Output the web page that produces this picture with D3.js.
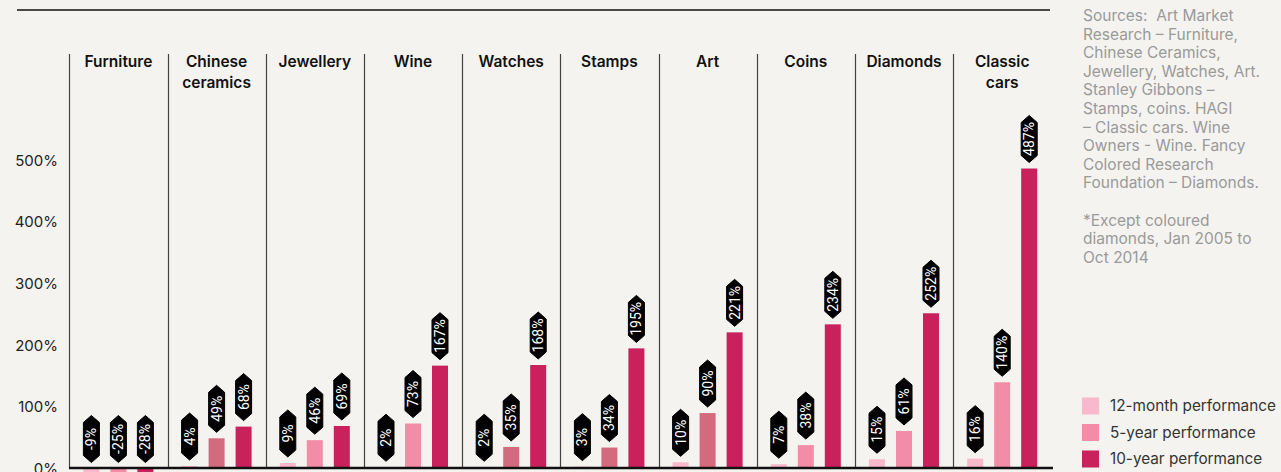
<!DOCTYPE html>
<html>
<head>
<meta charset="utf-8">
<script src="https://cdn.jsdelivr.net/npm/d3@7"></script>
<style>
  html, body { margin: 0; padding: 0; background: #f4f3ef; }
  svg { display: block; font-family: Inter, Roboto, "Liberation Sans", sans-serif; }
</style>
</head>
<body>
<svg id="chart" width="1281" height="472"></svg>
<script>
// categories, in column order
const categories = ['Furniture', 'Chinese ceramics', 'Jewellery', 'Wine', 'Watches',
  'Stamps', 'Art', 'Coins', 'Diamonds', 'Classic cars']
// header lines for each column
const headerLines = [['Furniture'], ['Chinese', 'ceramics'], ['Jewellery'], ['Wine'], ['Watches'],
  ['Stamps'], ['Art'], ['Coins'], ['Diamonds'], ['Classic', 'cars']]

const series = ['12-month performance', '5-year performance', '10-year performance']
const twelveMonth = [-9, 4, 9, 2, 2, 3, 10, 7, 15, 16]
const fiveYear = [-25, 49, 46, 73, 35, 34, 90, 38, 61, 140]
const tenYear = [-28, 68, 69, 167, 168, 195, 221, 234, 252, 487]

const yTicks = [0, 100, 200, 300, 400, 500]

const sourceLines = [
  'Sources:  Art Market',
  'Research \u2013 Furniture,',
  'Chinese Ceramics,',
  'Jewellery, Watches, Art.',
  'Stanley Gibbons \u2013',
  'Stamps, coins. HAGI',
  '\u2013 Classic cars. Wine',
  'Owners - Wine. Fancy',
  'Colored Research',
  'Foundation \u2013 Diamonds.',
  '',
  '*Except coloured',
  'diamonds, Jan 2005 to',
  'Oct 2014'
]

// colours
const colors = ['#f9b8cb', '#f28ca7', '#c8215b']
const darkFive = '#d46a7e'   // a few 5-year bars are drawn in a duskier pink
const darkFiveCats = ['Chinese ceramics', 'Watches', 'Stamps', 'Art']

const values = [twelveMonth, fiveYear, tenYear]
const data = categories.map((c, i) => ({
  name: c,
  lines: headerLines[i],
  bars: series.map((s, j) => ({ cat: c, key: s, idx: j, value: values[j][i] }))
}))

const svg = d3.select('#chart')

const x0 = d3.scaleBand()
  .domain(categories)
  .range([69.3, 1051.3])

const x1 = d3.scaleBand()
  .domain(series)
  .range([x0.bandwidth() / 2 - 35, x0.bandwidth() / 2 + 35])
  .paddingInner(0.4074)

const y = d3.scaleLinear()
  .domain([0, 500])
  .range([468.5, 160.5])

// top rule
svg.append('line')
  .attr('x1', 17).attr('x2', 1050)
  .attr('y1', 10).attr('y2', 10)
  .attr('stroke', '#111').attr('stroke-width', 1.5)

// y axis labels only
const yAxis = d3.axisLeft(y)
  .tickValues(yTicks)
  .tickFormat(d => d + '%')
  .tickSize(0)
  .tickPadding(0)

svg.append('g')
  .attr('transform', 'translate(58,0)')
  .call(yAxis)
  .call(g => g.select('.domain').remove())
  .call(g => g.selectAll('text')
    .attr('font-family', 'Inter, Roboto, sans-serif')
    .attr('font-size', 15)
    .attr('fill', '#222'))

// column dividers
svg.append('g')
  .selectAll('line')
  .data(categories)
  .join('line')
  .attr('x1', d => Math.round(x0(d)) + 0.5)
  .attr('x2', d => Math.round(x0(d)) + 0.5)
  .attr('y1', 54)
  .attr('y2', y(0))
  .attr('stroke', '#444')
  .attr('stroke-width', 1.2)

// column headers
const headers = svg.append('g')
  .selectAll('text')
  .data(data)
  .join('text')
  .attr('x', d => x0(d.name) + x0.bandwidth() / 2)
  .attr('y', 67)
  .attr('text-anchor', 'middle')
  .attr('font-size', 15.5)
  .attr('font-weight', 600)
  .attr('fill', '#111')

headers.selectAll('tspan')
  .data(d => d.lines)
  .join('tspan')
  .attr('x', function() { return d3.select(this.parentNode).attr('x') })
  .attr('dy', (d, i) => i === 0 ? 0 : 21)
  .text(d => d)

// bar groups
const groups = svg.append('g')
  .selectAll('g')
  .data(data)
  .join('g')
  .attr('transform', d => `translate(${x0(d.name)},0)`)

const barColor = d => (d.idx === 1 && darkFiveCats.includes(d.cat)) ? darkFive : colors[d.idx]

groups.selectAll('rect')
  .data(d => d.bars)
  .join('rect')
  .attr('x', d => x1(d.key))
  .attr('width', x1.bandwidth())
  .attr('y', d => y(Math.max(0, d.value)))
  .attr('height', d => Math.abs(y(d.value) - y(0)))
  .attr('fill', barColor)

// baseline
svg.append('line')
  .attr('x1', 69).attr('x2', 1053)
  .attr('y1', y(0) - 0.5).attr('y2', y(0) - 0.5)
  .attr('stroke', '#111').attr('stroke-width', 2.5)

// value tags: black hexagon with rotated text
const tagW = 16, tagH = 47, tagTip = 7, tagGap = 6
const tagPath = `M0,${-tagH / 2} L${tagW / 2},${-tagH / 2 + tagTip} L${tagW / 2},${tagH / 2 - tagTip}` +
  ` L0,${tagH / 2} L${-tagW / 2},${tagH / 2 - tagTip} L${-tagW / 2},${-tagH / 2 + tagTip} Z`

const tags = groups.selectAll('g.tag')
  .data(d => d.bars)
  .join('g')
  .classed('tag', true)
  .attr('transform', d => `translate(${x1(d.key) + x1.bandwidth() / 2},${y(Math.max(0, d.value)) - tagGap - tagH / 2})`)

tags.append('path')
  .attr('d', tagPath)
  .attr('fill', '#000')
  .attr('stroke', '#000')
  .attr('stroke-width', 1)
  .attr('stroke-linejoin', 'round')

tags.append('text')
  .attr('transform', 'rotate(-90)')
  .attr('text-anchor', 'middle')
  .attr('dy', '0.36em')
  .attr('font-family', 'Roboto, sans-serif')
  .attr('font-size', 14)
  .attr('fill', '#fff')
  .text(d => d.value + '%')

// sources note
svg.append('text')
  .attr('x', 1083)
  .attr('y', 21)
  .attr('font-size', 15.5)
  .attr('fill', '#9a9a9a')
  .attr('xml:space', 'preserve')
  .style('white-space', 'pre')
  .selectAll('tspan')
  .data(sourceLines)
  .join('tspan')
  .attr('x', 1083)
  .attr('dy', (d, i) => i === 0 ? 0 : 18.6)
  .text(d => d || '\u00a0')

// legend
const legend = svg.append('g')
  .selectAll('g')
  .data(series)
  .join('g')
  .attr('transform', (d, i) => `translate(1082,${397.5 + i * 26.5})`)

legend.append('rect')
  .attr('width', 17)
  .attr('height', 17)
  .attr('fill', (d, i) => colors[i])

legend.append('text')
  .attr('x', 28)
  .attr('y', 8.5)
  .attr('dy', '0.35em')
  .attr('font-size', 15.3)
  .attr('fill', '#333')
  .text(d => d)
</script>
</body>
</html>
